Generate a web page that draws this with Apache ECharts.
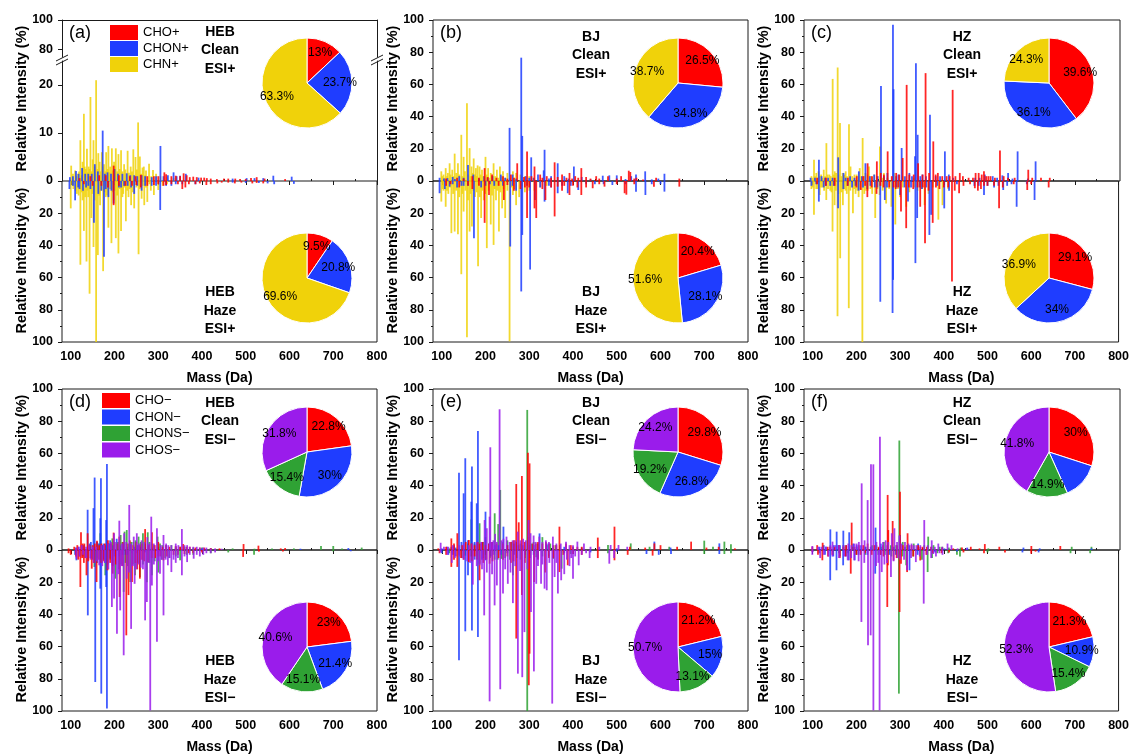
<!DOCTYPE html>
<html>
<head>
<meta charset="utf-8">
<script src="https://cdn.jsdelivr.net/npm/echarts@6/dist/echarts.min.js"></script>
<style>
html,body{margin:0;padding:0;background:#fff}
#chart{width:1132px;height:756px}
</style>
</head>
<body>
<div id="chart"></div>
<script>
// ---- classes and tick labels ----
const posClasses = ['CHO+', 'CHON+', 'CHN+'];
const negClasses = ['CHO\u2212', 'CHON\u2212', 'CHONS\u2212', 'CHOS\u2212'];
const massTicks = [100, 200, 300, 400, 500, 600, 700, 800];
const massMinorTicks = [150, 250, 350, 450, 550, 650, 750];
const intensityTicks = [0, 20, 40, 60, 80, 100];
const brokenLowTicks = [0, 10, 20];
const brokenHighTicks = [80, 100];

// ---- composition shares (%) in class order ----
const pieHebCleanPos = [13, 23.7, 63.3];
const pieHebHazePos = [9.5, 20.8, 69.6];
const pieBjCleanPos = [26.5, 34.8, 38.7];
const pieBjHazePos = [20.4, 28.1, 51.6];
const pieHzCleanPos = [39.6, 36.1, 24.3];
const pieHzHazePos = [29.1, 34, 36.9];
const pieHebCleanNeg = [22.8, 30, 15.4, 31.8];
const pieHebHazeNeg = [23, 21.4, 15.1, 40.6];
const pieBjCleanNeg = [29.8, 26.8, 19.2, 24.2];
const pieBjHazeNeg = [21.2, 15, 13.1, 50.7];
const pieHzCleanNeg = [30, 13.3, 14.9, 41.8];
const pieHzHazeNeg = [21.3, 10.9, 15.4, 52.3];

// ---- spectra: [mass (Da), relative intensity (%)] ----
// HEB, ESI+
const hebCleanPosCHO = [[120,0.6],[198,3.2],[260,1.3],[314,1.8],[318,1.4],[340,1.1],[358,1.6],[365,1.2],[380,0.9],[398,0.7],[411,0.6],[420,0.5],[434,0.4],[476,0.5],[487,0.4],[500,0.4],[512,0.6],[525,0.8],[543,0.5],[590,0.4],[145,1],[165,1.2],[180,1.2],[210,1.2],[235,1],[248,1],[275,1],[290,1],[300,1],[330,1],[350,1],[372,0.8],[388,0.8],[405,0.7],[450,0.5],[460,0.5]];
const hebCleanPosCHON = [[98,0.8],[112,2.1],[126,2.7],[140,1.5],[155,3.5],[173,10.5],[184,1.8],[200,2.5],[228,1.6],[245,1.2],[262,1.2],[285,0.8],[305,7.3],[322,1.2],[335,1.8],[350,1.1],[363,1.5],[392,0.7],[470,0.5],[502,0.6],[520,0.6],[540,0.6],[563,1.1],[605,0.9],[105,1],[118,1.5],[133,1.5],[148,1.5],[162,2],[178,1.5],[192,1.5],[208,1.5],[218,1.5],[236,1.2],[252,1],[270,1],[295,1],[312,1],[342,1]];
const hebCleanPosCHN = [[101,3.2],[110,2.2],[116,1.5],[122,8.5],[127,4],[130,14],[134,2.5],[137,6.7],[141,3],[145,17.5],[150,4.5],[152,8.5],[158,21],[163,5.8],[166,4],[171,6],[176,3.5],[181,6],[186,7.3],[190,3],[194,6.8],[199,4],[203,6.8],[209,5.6],[215,6.4],[222,3.5],[230,6.3],[237,3],[243,6.6],[248,5],[254,12.2],[258,5.1],[264,2.8],[267,3],[272,2.2],[279,3.6],[288,2.3],[295,1.5],[305,1],[320,0.8],[335,0.6],[105,1.5],[113,1],[119,2],[124,1.2],[132,3],[139,1.8],[143,2.5],[148,2],[155,3],[161,2.5],[168,2],[173,3],[179,2],[184,2.5],[188,1.8],[196,2.2],[201,3],[206,2],[212,2.5],[218,2],[225,2.4],[233,1.7],[240,2],[251,2.4],[261,1.5],[270,1.2],[284,1]];
const hebHazePosCHO = [[130,2],[198,15],[225,3],[260,4],[312,3],[318,2.5],[355,5],[362,4],[385,2],[410,2.5],[420,2],[435,1.5],[475,1.5],[490,1],[515,1.5],[525,1.2],[540,1.5],[150,3],[170,3],[185,4],[210,3],[240,3],[250,2.5],[275,3],[290,2.5],[300,2],[330,2],[345,2],[370,2],[395,1.5],[445,1],[460,1]];
const hebHazePosCHON = [[97,5],[110,12],[117,4],[128,6],[140,3],[153,26],[163,8],[176,47],[186,10],[198,14],[210,4],[230,3],[245,8],[262,6],[285,3],[304.5,18],[318,3],[330,3],[355,2],[385,2],[470,1],[500,1.2],[530,1.2],[550,1.5],[565,2],[610,1.8],[105,3],[120,5],[135,4],[145,5],[170,6],[180,5],[193,6],[215,4],[222,3],[238,4],[252,3],[270,3],[295,3],[340,2]];
const hebHazePosCHN = [[100,17],[106,5],[114,8],[122,52],[127,12],[130,31],[136,50],[140,10],[143,70],[147,23],[152,41],[158,100],[162,46],[167,15],[174,56],[180,10],[186,29],[193,38.6],[198,12],[203,35.5],[209,45],[215,31],[220,8],[226,25],[232,10],[238,15],[245,17],[255,45.5],[262,11],[268,15],[275,13],[283,6],[290,8.7],[300,5.6],[310,3],[320,2],[104,3],[111,6],[118,9],[125,7],[133,10],[138,6],[149,8],[155,12],[165,9],[170,6],[178,7],[183,9],[190,5],[196,7],[201,6],[206,9],[212,5],[218,10],[223,4],[229,6],[235,5],[242,7],[250,4],[258,5],[265,3],[272,4],[280,2]];
// BJ, ESI+
const bjCleanPosCHO = [[110,1.5],[135,2],[170,3],[198,8],[215,4],[240,3],[258,4],[272.5,11],[295,18.4],[312,9],[325,4],[340,3],[358,11.6],[375,4],[392,5],[405,3],[419,8],[430,2.5],[453,3],[480,3],[510,3],[527.5,6.4],[531,5.6],[545,2],[590,2],[643,1.5],[150,1.5],[185,2],[205,2.5],[225,2],[250,1.5],[265,2],[288,2.5],[305,3],[330,2],[350,2],[365,2.5],[385,2],[398,1.5],[412,2],[440,1.5],[460,1.5],[500,1.5],[540,1.5],[560,1]];
const bjCleanPosCHON = [[95,2],[113,1.8],[125,2.5],[140,3],[160,10],[172,4],[197,3],[216,3],[235,4],[255,33],[262,4],[281.7,76.6],[284,28],[292,3],[304.5,14.7],[320,4],[333,6.6],[335,19.4],[350,3],[365,11],[380,3],[402,9],[420,2.5],[468,3.3],[483,3.5],[500,3.5],[533,3],[544,4],[565,6],[609,4.5],[105,1.5],[130,1.2],[150,2],[185,1.5],[205,2],[245,2],[270,1.5],[300,2],[310,2],[345,1.5],[390,1.5],[440,1],[520,1.2],[580,1],[595,1.5]];
const bjCleanPosCHN = [[99,6],[104,4],[109,8],[114,5],[118,11],[124,7],[129.5,17],[137,11],[144.7,28.7],[150,15],[157.6,48.3],[163.7,20.4],[168,9],[173,14],[178,8],[182,9.7],[186.5,9],[192,7],[200,15],[206,8],[212,5],[218.5,11],[226,7],[233,9],[240,6],[250,5],[262.6,6],[270,5],[280,4],[290,3],[300,3],[310,2],[101,3],[107,2],[112,3],[120,4],[127,3],[133,5],[140,4],[147,3],[153,6],[160,4],[166,3],[171,5],[176,4],[180,3],[189,4],[195,3],[203,4],[209,2],[215,3],[222,3],[229,2],[236,3],[245,2],[256,2],[265,2]];
const bjHazePosCHO = [[110,3],[140,4],[170,5],[198,26],[208,8.7],[242,11.8],[265,6],[280,5],[295,23],[312,17],[316,23],[337,11.8],[358,22],[375,6],[392,8.7],[419,8.7],[430,4],[445,4.5],[472,3.5],[518,7.6],[522,8.5],[585,3.5],[643,3.5],[120,2],[160,3],[185,3],[230,3],[250,2.5],[290,4],[300,4],[330,5],[350,4],[365,3.5],[380,3],[400,3],[410,4],[460,2],[500,2],[540,2]];
const bjHazePosCHON = [[95,7.6],[107,5],[118,3.5],[135,4],[150,3],[173.6,35.5],[190,4],[220,3],[256.5,40.7],[270,6],[281.7,68.6],[284,33.5],[302,55],[313,11.8],[335,12.8],[350,4],[365,7.6],[388,7.6],[412,5.6],[450,2],[490,2.5],[544,6.6],[565.5,8.7],[609,6.6],[125,2],[145,3],[160,3],[200,3],[210,2],[240,3],[262,3],[295,3],[325,4],[345,3],[375,3],[395,3],[430,2],[470,2],[520,2],[580,2],[600,2]];
const bjHazePosCHN = [[99,12.8],[104,6],[109,16],[115,8],[122,32.4],[129.5,31.4],[137,33],[144.7,57.9],[150,19],[157.6,97],[163.7,31.4],[169,28.3],[176,10],[183,53],[190,23],[196,12],[203,41.7],[212,27],[218.5,39.7],[224,12],[230.7,31.4],[238,17],[245,23],[255,99.6],[262.6,8.7],[270,15],[277,10],[290,7],[300,6],[312,6],[325,4],[340,3],[102,5],[112,6],[119,4],[126,8],[133,6],[140,10],[147,8],[154,6],[160,12],[166,8],[172,6],[180,7],[187,10],[193,6],[200,8],[207,6],[215,9],[221,5],[227,6],[234,7],[241,5],[250,6],[260,4],[267,5],[283,3],[295,3]];
// HZ, ESI+
const hzCleanPosCHO = [[110,2],[130,2],[200,3],[225,11],[246,12.2],[255,5],[262,4],[270.6,18.4],[290,5],[304.8,14.3],[313.9,59.7],[320,4],[340,11],[357,67],[365,5],[374.6,24.6],[385,5],[395,3],[418.7,56.6],[425,3],[435,5],[471,5],[478,5],[485,4],[490,6],[500,3],[526.5,19],[535,3],[591,7],[640,2],[150,2],[180,2],[215,3],[235,3],[280,3],[297,4],[330,4],[350,4],[380,4],[405,3],[412,3],[442,3],[455,2],[465,2],[495,3],[505,3],[515,2],[545,2],[560,2],[600,2],[620,2]];
const hzCleanPosCHON = [[95,2],[114,13.2],[120,3],[135,2],[158,14.7],[170,5],[185,3],[205,6],[220,11],[240,4],[255.4,59],[270,5],[282.7,97],[284,57],[295,4],[302.5,20.5],[320,5],[333,15.3],[335,73.1],[339,28.7],[350,4],[367,41.1],[380,3],[401,18.4],[410,4],[470,2],[492,4],[510,3],[532,3.5],[545,5],[566.7,18.4],[607.7,12.2],[105,2],[128,2],[145,2],[175,2],[195,2],[212,3],[230,3],[248,3],[262,3],[290,3],[310,3],[326,3],[345,3],[358,3],[390,3],[420,2],[480,2],[520,2],[555,1.5],[590,1.5]];
const hzCleanPosCHN = [[97,3],[102.8,13.2],[108,5],[113,6],[119,4],[125,7],[131,23.5],[138,4],[145.3,63.4],[150,6],[156.7,70.5],[162,36],[168,5],[175,6],[182.5,35.3],[186,9],[195,4],[200,4],[207,8],[213.6,26.7],[220,5],[228,9],[240,4],[253,21.5],[262,5],[285,5],[305,3],[330,2],[100,2],[105,3],[111,2],[116,3],[122,2],[128,3],[134,4],[141,3],[148,4],[153,5],[159,4],[165,3],[172,4],[178,3],[190,3],[204,3],[210,3],[217,3],[225,4],[233,3],[246,3],[258,2],[270,2]];
const hzHazePosCHO = [[110,2],[130,3],[200,4],[210,5.6],[225,10],[246,8],[262,4],[290,5],[302,19],[313.9,29.3],[320,4],[346,16],[357,38.6],[365,6],[374.6,26],[390,5],[418.7,62.4],[425,6],[435,7.6],[471,4.5],[478,6],[485,5],[526.5,17],[535,4],[591,5.6],[640,4],[150,3],[180,3],[220,3],[235,4],[255,3],[275,4],[285,4],[296,4],[330,5],[340,4],[352,4],[382,4],[400,4],[410,4],[445,3],[460,2],[492,3],[500,3],[515,3],[560,2],[600,2]];
const hzHazePosCHON = [[97,3],[114,12.8],[125,4],[140,3],[158,17],[170,5],[190,4],[205,6],[225,5],[242,4],[254.6,75],[265,11.8],[282.7,82],[284,61.4],[300,8.7],[318,12.8],[335,51],[339,23],[350,5],[367,33.5],[371,21],[401,17],[412,6],[470,3],[492,8.7],[515,4],[536,5.6],[545,3],[566.7,16],[607.7,11.8],[108,2],[130,3],[148,3],[180,3],[198,3],[215,4],[232,3],[248,4],[270,4],[292,4],[310,4],[325,4],[345,4],[360,4],[385,3],[430,2],[480,3],[500,3],[525,3],[555,2],[590,2]];
const hzHazePosCHN = [[97,5],[102.8,21],[108,5],[116,8.7],[122,4],[131,11.8],[140,6],[145.3,31.4],[150,15],[156.7,84],[162.8,48],[169,15],[175,6],[182.5,79],[192,20],[198,8],[205,10],[213.6,100],[222,6],[236,8],[243,23],[253,8.7],[260,6],[268,14],[280,16],[289,27],[300,10],[314,16],[321,7],[350,5],[356,15],[365,8],[387.5,24],[397,15],[410,5],[100,4],[111,5],[119,4],[126,6],[135,5],[143,7],[153,6],[159,8],[166,7],[172,5],[178,8],[186,6],[195,5],[202,6],[209,5],[218,8],[226,6],[232,5],[248,5],[275,5],[295,5],[306,4],[333,4],[340,6],[375,4]];
// HEB, ESI-
const hebCleanNegCHO = [[95,1],[108,2],[123.4,11],[131,4],[138.6,10.4],[150,3],[160,5.8],[170,4],[185,6],[198,10.8],[211,8.3],[220,5],[235,6],[250,5],[262,4],[270,13],[285.5,11],[300,5],[318,3],[340,2.5],[357,3.7],[372,2],[395,1.5],[420,1.2],[440,1],[495,3.7],[529,2.7],[580,1],[590,1.2],[115,3],[127,4],[143,3],[155,4],[165,3],[178,4],[192,4],[205,4],[228,4],[243,3],[257,3],[278,3],[292,3],[310,2],[325,2],[350,2],[365,2],[385,1.5],[405,1.5]];
const hebCleanNegCHON = [[112,1.5],[125,3],[138.6,25],[146,5],[152,26],[154.6,45],[160,5],[167.5,19.7],[169,44.5],[175,4],[181,18.6],[182.7,53.4],[190,6],[205,7],[220,4],[235,3],[252,3],[270,2],[300,2],[340,1],[400,1],[625,0.8],[734.5,1.2],[118,2],[130,3],[143,4],[163,4],[172,3],[186,4],[197,3],[212,3],[228,2],[245,2],[260,2],[285,1.5]];
const hebCleanNegCHONS = [[166,4],[167.5,10.4],[180,3],[195,7.2],[208,5],[214,9.3],[223,11.4],[228,12.4],[238,5],[248,6],[255,8.3],[265,10.4],[276,11],[285,4],[298.5,8.3],[310,3],[330,3],[350,2],[380,1.5],[420,1],[470,1],[520,0.8],[672,2.5],[700,2.5],[720,1],[765,1.5],[172,3],[187,4],[200,5],[218,5],[233,4],[243,5],[260,5],[270,4],[280,5],[290,3],[304,4],[318,3],[340,2],[360,2],[400,1.5],[560,1],[610,1]];
const hebCleanNegCHOS = [[112,1],[150,2],[170,3],[192,5],[199,10.4],[211,18.2],[222,10.4],[233.7,28],[244,8.3],[251,10.4],[262,6],[275,8],[284,20.7],[297,13.5],[312,9.3],[323,3],[340,4],[354,13],[366,3],[388,2],[403,1.5],[420,1],[445,0.8],[118,2],[125,3],[135,2],[142,3],[158,2],[176,3],[186,4],[204,5],[217,4],[227,5],[238,4],[256,4],[268,5],[279,4],[290,4],[306,3],[318,4],[330,3],[346,3],[360,3],[372,2],[380,2],[395,1.5],[410,1.5],[430,1]];
const hebHazeNegCHO = [[95,2],[112,4],[122,23],[130,8],[136,15.7],[148,11.6],[159,19.9],[170,8],[184,12.6],[196,14.7],[211.7,29.2],[227,53],[232,28],[240,19.9],[258,17.8],[268,7],[277,7.5],[300,4],[312,6.4],[345,3],[370,2],[494,4.3],[530,1],[585,1],[100,3],[117,6],[126,5],[140,7],[153,8],[165,6],[176,7],[190,8],[203,9],[218,10],[247,8],[252,12],[263,6],[285,5],[293,5],[305,4],[320,4],[335,3],[360,2.5],[380,2],[400,1.5]];
const hebHazeNegCHON = [[110,3],[113,6.4],[127,4],[139,40.6],[145,5],[156,82],[160,8],[167.5,24],[169.8,89.2],[178,8],[181,23],[182.7,98.5],[195,9.5],[210,4],[218,3],[230,3],[250,2],[270,1.5],[300,1],[740,0.8],[120,4],[133,5],[150,6],[175,6],[190,5],[200,4],[225,3],[240,2]];
const hebHazeNegCHONS = [[154,10.5],[160,5],[179,15.7],[190,6],[202,17.8],[221,26],[225,8],[236,19.9],[247,15.7],[258,16.8],[274,20],[285.5,15.7],[300,14],[316,5],[350,6.4],[380,3],[420,2],[460,1.5],[519,2.9],[700,0.8],[165,6],[172,8],[185,9],[196,10],[210,12],[215,9],[230,10],[242,9],[253,8],[265,9],[280,8],[292,7],[308,6],[325,5],[340,4],[365,3]];
const hebHazeNegCHOS = [[113,5.4],[128,3],[165,9.5],[194,35.4],[199,30.2],[205.6,52],[213,37.5],[221,65.4],[228,17.8],[238,49],[246,21],[250,12],[265,12],[270,43.7],[274,32.3],[281.7,99.6],[285.5,22],[297,57],[304,14.7],[312,40.6],[322,9.5],[330,13.7],[340,8],[354,15.7],[366,7.5],[381,5.4],[395,4],[403,3],[430,1.5],[120,4],[135,5],[145,6],[152,8],[160,7],[172,10],[178,8],[186,12],[209,15],[217,10],[233,14],[242,10],[255,9],[260,11],[278,8],[290,9],[300,7],[308,6],[317,6],[326,5],[335,6],[345,5],[360,4],[372,3],[388,3],[410,2],[420,2]];
// BJ, ESI-
const bjCleanNegCHO = [[92,1],[110,2],[121.9,7.2],[135.6,10.4],[147,3],[162,6.2],[175,3],[187,4],[200,3],[215,5],[240,4],[250,3],[270.3,41],[276,17.2],[283.2,46],[297,60.4],[300.7,53.8],[308,4],[320,5],[338,5],[355,3],[369,14.5],[384,4],[400,2],[420,2],[456.7,7.7],[494.8,14.5],[530,2],[565,1.5],[586,4.1],[600,3],[638,2],[670,5.2],[705,1.5],[733,2],[770,1],[128,4],[155,5],[168,4],[182,5],[193,5],[208,4],[225,4],[258,5],[265,6],[290,5],[315,4],[330,4],[345,4],[362,3],[395,3],[410,2]];
const bjCleanNegCHON = [[100,1],[122,2],[132,1.5],[139.4,48],[150,35.2],[153.8,57],[167.5,30],[169,51.8],[180,29],[182.7,73.9],[200,23.8],[215,5],[230,3],[241,14.5],[265,4],[285,3],[310,3],[323.5,10.3],[340,4],[380,2],[420,1.5],[500,1],[586,5.2],[623,1.5],[734.5,4.1],[112,2],[128,3],[145,5],[160,6],[175,5],[192,5],[208,4],[222,3],[250,3],[275,3],[300,3]];
const bjCleanNegCHONS = [[118,1],[160,4],[167.5,19],[186.5,16.6],[200,8],[221,22.8],[229,16.1],[233.7,37.3],[250,6],[270,5],[295.4,87],[298,8],[310,5],[330,8],[348,4],[370,3],[400,2],[480,3.1],[532,4.1],[575,2],[620,2],[700,5.8],[720,2],[746,5.2],[761,3.5],[175,4],[195,5],[210,5],[240,5],[260,5],[280,4],[305,4],[320,4],[340,3],[360,3]];
const bjCleanNegCHOS = [[97.5,4.5],[115,2],[162,3],[180,5],[198,18.6],[203,13.5],[209.4,20.7],[211,63.8],[215,5],[222,10],[232.2,87.4],[241,7],[248,8.3],[262,6],[274,11.4],[286,7],[298.4,18.6],[303,10.4],[310,9],[323,8.3],[338,6],[354,8.3],[384,5.2],[410,5.2],[425,4],[486,3.1],[504,3.1],[524,2],[105,2],[125,3],[140,3],[150,4],[170,4],[190,5],[218,6],[226,5],[237,6],[255,5],[268,6],[280,6],[292,6],[315,5],[330,5],[345,5],[362,4],[372,4],[392,3],[400,3],[440,2],[460,2]];
const bjHazeNegCHO = [[95,2],[110,3],[121.9,10.5],[135.6,10.5],[144,5],[162,7.5],[175,4],[186.5,18.8],[209.4,8.5],[230,5],[250,4],[270.3,55],[283.2,28],[299,84],[300.7,64.4],[311,19.9],[336,14],[369,13.7],[388,9.5],[420,3],[456.7,5],[494.8,6.4],[525,3],[582,3.5],[128,6],[150,6],[170,7],[180,6],[195,8],[202,6],[216,7],[240,6],[258,8],[264,7],[290,8],[320,6],[345,5],[355,5],[378,3],[400,2.5]];
const bjHazeNegCHON = [[100,2],[125,3],[139.4,68.5],[146,5],[153.8,50.5],[160,15.7],[169,50],[175,6],[182.7,54],[186.5,8.5],[200,6.4],[220,3],[250,2],[310,3],[320,5.4],[380,2],[440,1.5],[500,1],[568,2.5],[596,3],[624,2.5],[734.5,2.5],[115,3],[132,4],[192,6],[212,4],[235,3],[265,3],[290,3]];
const bjHazeNegCHONS = [[117,2],[153.8,3.5],[167,4],[200,3],[221,6],[236,5.5],[262.6,15.7],[272,5],[295.4,100],[302,5],[316,4.5],[355,5.5],[374,11.6],[395,2.5],[480,2],[700,2.5],[746,2.5],[761,2],[140,3],[180,4],[195,5],[210,5],[228,6],[245,5],[256,6],[280,6],[290,5],[330,4],[345,4]];
const bjHazeNegCHOS = [[97,1.5],[113,3],[123,8],[171,21.5],[186.5,9.5],[197,40.6],[209.4,94],[220.8,34.4],[226,22],[233.7,86.5],[240,27],[251,21],[262.6,33],[274,76.8],[284,79],[289,51],[304,38.5],[310.6,75.4],[316,21],[327,21],[335,24],[340,25],[352.5,95.4],[358,16.8],[365.5,27],[373,18.8],[380,15],[392,10],[400,17.8],[413,9.5],[438,5],[483,8.5],[494,5],[130,5],[140,4],[150,6],[158,7],[165,8],[180,10],[192,12],[203,14],[215,15],[245,12],[257,14],[268,10],[279,13],[296,12],[320,10],[330,9],[346,8],[362,8],[386,6],[396,5],[405,4],[420,3],[430,2]];
// HZ, ESI-
const hzCleanNegCHO = [[99,2],[110,3],[122.5,4.5],[134,2],[150,2],[160,3],[176,3],[188.6,17],[205,3],[225,4],[250,2],[270.6,34.2],[272,12.4],[282,18],[298.7,36.2],[316,10.4],[340,3],[345,2],[360,2],[395,1.5],[420,1],[460,2],[492,3.7],[525,2],[598,2.5],[664,2.5],[140,2],[170,2],[195,2],[215,3],[240,3],[260,3],[292,3],[305,3],[325,3],[350,2],[370,2],[440,1.5],[480,1]];
const hzCleanNegCHON = [[115,2],[125,3],[140,12.8],[154.4,11.4],[158,3],[169.6,12],[183,11],[192,4],[210,3],[243,13.9],[255,4],[270,3],[299,9.3],[320,3],[340,4],[370,2],[400,1],[452,1.5],[580,1.5],[617,1],[735,1],[130,2],[148,3],[162,3],[176,3],[200,3],[220,2],[232,2],[285,2],[310,2]];
const hzCleanNegCHONS = [[140,2],[170,3],[200,2],[245,3],[262,5],[278,3],[297.2,68],[305,5],[330,4],[354,3],[363,8.3],[375,3],[389,2],[437,1.5],[500,1],[690,2],[735,2],[190,2],[220,2],[235,3],[255,2],[290,3],[315,3],[340,2],[395,2],[410,1.5]];
const hzCleanNegCHOS = [[99,2.5],[112,2],[145,5.2],[160,3],[181,4],[195,4],[211.4,41.4],[225,31],[232.6,53.2],[238,53.2],[253,70.4],[260,5],[280,10.4],[286,13.5],[297.2,9],[310,5],[325,4],[336,3],[354,18.6],[371,6],[386,4],[407,4],[416,3],[450,1],[120,2],[130,2],[140,3],[152,3],[170,3],[188,3],[200,4],[205,5],[218,6],[245,5],[266,6],[272,5],[292,5],[302,4],[318,4],[330,3],[345,3],[362,3],[378,2],[395,2],[430,1]];
const hzHazeNegCHO = [[99,1],[122,6.4],[135,4],[162,5],[187,14.7],[200,3],[220,2],[270.6,35.4],[272,9.5],[285,6.5],[298.7,38.5],[302,8.5],[316,13.7],[346,6.5],[395,2],[412,1.5],[492,2],[540,1.5],[600,2.3],[610,1],[112,3],[145,3],[175,4],[210,3],[235,3],[256,3],[262,4],[292,5],[330,4],[360,3],[375,2],[445,1.5]];
const hzHazeNegCHON = [[100,1],[115,2],[140,18.8],[154.4,12.6],[169.6,9.5],[182.5,6.4],[196,6.4],[243,14.7],[255,3],[300,3],[321.5,12.6],[340,3],[380,1.5],[430,1],[580,1.5],[617,1.5],[128,3],[147,4],[162,4],[176,4],[205,3],[225,3],[275,3],[290,3]];
const hzHazeNegCHONS = [[160,2],[200,3],[250,3],[297.2,89.2],[314,9.5],[350,6],[363,13.7],[373,5],[430,3],[437,4],[500,1.5],[690,2],[735,2],[180,2],[220,3],[265,3],[280,4],[305,4],[330,4],[385,2],[410,2]];
const hzHazeNegCHOS = [[99,3],[117,5],[136,4],[180,6.4],[195,6.4],[211.4,44.7],[226.5,59.2],[232.6,53],[238.8,99.6],[253,99.6],[258,13.7],[264,9],[279,16.8],[294,5],[309,6],[316,12.6],[336,7.5],[354,33.3],[371,5],[382,4],[397,3],[125,3],[145,4],[160,5],[172,4],[188,5],[205,7],[218,8],[245,10],[250,8],[270,8],[285,7],[300,6],[325,5],[345,4],[362,3],[376,2.5],[390,2]];

// ---- styling and layout ----
const FONT = '"Liberation Sans", Arial, sans-serif';
const FRAME = '#1a1a1a';
const posColors = ['#ff0000', '#1f3dff', '#f0d20a'];
const negColors = ['#ff0000', '#1f3dff', '#2fa234', '#9a1ceb'];
const posOrder = [2, 1, 0];
const negOrder = [2, 1, 0, 3];
const colLeft = [62, 433, 804];
const colWidth = [315, 315, 316];
const rowTop = [20, 389];
const HALF = 161;
const PIE_R = 45;

const panels = [
  {tag:'(a)', site:'HEB', ion:'ESI+', col:0, row:0, textDy:12, broken:true, classes:posClasses, colors:posColors, order:posOrder,
   clean:[hebCleanPosCHO, hebCleanPosCHON, hebCleanPosCHN], haze:[hebHazePosCHO, hebHazePosCHON, hebHazePosCHN], pieClean:pieHebCleanPos, pieHaze:pieHebHazePos},
  {tag:'(b)', site:'BJ', ion:'ESI+', col:1, row:0, textDy:17, classes:posClasses, colors:posColors, order:posOrder,
   clean:[bjCleanPosCHO, bjCleanPosCHON, bjCleanPosCHN], haze:[bjHazePosCHO, bjHazePosCHON, bjHazePosCHN], pieClean:pieBjCleanPos, pieHaze:pieBjHazePos},
  {tag:'(c)', site:'HZ', ion:'ESI+', col:2, row:0, textDy:17, classes:posClasses, colors:posColors, order:posOrder,
   clean:[hzCleanPosCHO, hzCleanPosCHON, hzCleanPosCHN], haze:[hzHazePosCHO, hzHazePosCHON, hzHazePosCHN], pieClean:pieHzCleanPos, pieHaze:pieHzHazePos},
  {tag:'(d)', site:'HEB', ion:'ESI\u2212', col:0, row:1, textDy:14, classes:negClasses, colors:negColors, order:negOrder,
   clean:[hebCleanNegCHO, hebCleanNegCHON, hebCleanNegCHONS, hebCleanNegCHOS], haze:[hebHazeNegCHO, hebHazeNegCHON, hebHazeNegCHONS, hebHazeNegCHOS], pieClean:pieHebCleanNeg, pieHaze:pieHebHazeNeg},
  {tag:'(e)', site:'BJ', ion:'ESI\u2212', col:1, row:1, textDy:14, classes:negClasses, colors:negColors, order:negOrder,
   clean:[bjCleanNegCHO, bjCleanNegCHON, bjCleanNegCHONS, bjCleanNegCHOS], haze:[bjHazeNegCHO, bjHazeNegCHON, bjHazeNegCHONS, bjHazeNegCHOS], pieClean:pieBjCleanNeg, pieHaze:pieBjHazeNeg},
  {tag:'(f)', site:'HZ', ion:'ESI\u2212', col:2, row:1, textDy:14, classes:negClasses, colors:negColors, order:negOrder,
   clean:[hzCleanNegCHO, hzCleanNegCHON, hzCleanNegCHONS, hzCleanNegCHOS], haze:[hzHazeNegCHO, hzHazeNegCHON, hzHazeNegCHONS, hzHazeNegCHOS], pieClean:pieHzCleanNeg, pieHaze:pieHzHazeNeg}
];

const tickLabel = {fontSize:12.5, fontWeight:'bold', color:'#000', fontFamily:FONT};
const tickLine = {color:FRAME, width:1};

const option = {
  animation: false,
  backgroundColor: '#fff',
  textStyle: {fontFamily: FONT},
  grid: [], xAxis: [], yAxis: [], series: [], graphic: [],
  legend: [
    {data: posClasses, left:110, top:25, orient:'vertical', itemWidth:28, itemHeight:15, itemGap:1, padding:0, icon:'rect',
     selectedMode:false, itemStyle:{opacity:1, borderWidth:0}, textStyle:{fontSize:13, color:'#000', fontFamily:FONT}},
    {data: negClasses, left:102, top:393, orient:'vertical', itemWidth:28, itemHeight:15, itemGap:1.5, padding:0, icon:'rect',
     selectedMode:false, itemStyle:{opacity:1, borderWidth:0}, textStyle:{fontSize:13, color:'#000', fontFamily:FONT}}
  ]
};

function pushTo(list, obj) { return list.push(obj) - 1; }

function addBars(p, sets, xi, yi) {
  p.order.forEach(k => {
    option.series.push({
      type:'bar', name:p.classes[k], xAxisIndex:xi, yAxisIndex:yi, data:sets[k],
      barWidth:1.8, barGap:'-100%', silent:true, z:2,
      itemStyle:{color:p.colors[k], opacity:0.85}
    });
  });
}

function addPie(p, cx, cy, values) {
  option.series.push({
    type:'pie', center:[cx, cy], radius:PIE_R, startAngle:90, clockwise:true, silent:true, z:5,
    label:{show:false}, labelLine:{show:false},
    itemStyle:{borderColor:'#fff', borderWidth:1},
    data:p.classes.map((n, i) => ({name:n, value:values[i], itemStyle:{color:p.colors[i]}}))
  });
  // a transparent, wider ring that only carries the percentage labels
  option.series.push({
    type:'pie', center:[cx, cy], radius:PIE_R * 1.33, startAngle:90, clockwise:true, silent:true, z:6,
    labelLine:{show:false},
    label:{show:true, position:'inside', formatter:'{c}%', fontSize:12, color:'#000', fontFamily:FONT},
    itemStyle:{color:'rgba(0,0,0,0)', borderWidth:0},
    data:p.classes.map((n, i) => ({name:n, value:values[i]}))
  });
}

function addText(x, y, text, style, rotation) {
  option.graphic.push({type:'text', x, y, rotation:rotation || 0, silent:true, z:10,
    style:Object.assign({text, fill:'#000', align:'center', verticalAlign:'middle', fontFamily:FONT}, style)});
}

function breakMark(x, y) {
  option.graphic.push({type:'group', silent:true, z:10, children:[
    {type:'polygon', shape:{points:[[x-6, y+1], [x+6, y-5], [x+6, y-1], [x-6, y+5]]}, style:{fill:'#fff'}},
    {type:'line', shape:{x1:x-6, y1:y+1, x2:x+6, y2:y-5}, style:{stroke:FRAME, lineWidth:1}},
    {type:'line', shape:{x1:x-6, y1:y+5, x2:x+6, y2:y-1}, style:{stroke:FRAME, lineWidth:1}}
  ]});
}

panels.forEach(p => {
  const L = colLeft[p.col], W = colWidth[p.col], T = rowTop[p.row], Z = T + HALF;

  // lower half: haze, intensity grows downward from the shared zero line
  const gH = pushTo(option.grid, {left:L, top:Z, width:W, height:HALF, show:true, borderColor:FRAME, borderWidth:1});
  const xH = pushTo(option.xAxis, {
    gridIndex:gH, type:'value', min:80, max:800, axisLine:{show:false}, splitLine:{show:false},
    axisTick:{show:true, customValues:massTicks, length:4, lineStyle:tickLine},
    axisLabel:Object.assign({customValues:massTicks, margin:8}, tickLabel),
    name:'Mass (Da)', nameLocation:'middle', nameGap:29,
    nameTextStyle:{fontSize:14, fontWeight:'bold', color:'#000', fontFamily:FONT}
  });
  pushTo(option.xAxis, {
    gridIndex:gH, type:'value', min:80, max:800, axisLine:{show:false}, splitLine:{show:false}, axisLabel:{show:false},
    axisTick:{show:true, customValues:massMinorTicks, length:2, lineStyle:tickLine}
  });
  const yH = pushTo(option.yAxis, {
    gridIndex:gH, type:'value', inverse:true, min:0, max:100, interval:20, axisLine:{show:false}, splitLine:{show:false},
    axisTick:{show:true, length:4, lineStyle:tickLine},
    minorTick:{show:true, splitNumber:2, length:2, lineStyle:tickLine},
    axisLabel:Object.assign({margin:9, customValues:intensityTicks.slice(1)}, tickLabel)
  });
  addBars(p, p.haze, xH, yH);

  // upper half: clean
  let xC, yC;
  if (p.broken) {
    const upperH = 37, lowerTop = T + 41;
    const gU = pushTo(option.grid, {left:L, top:T, width:W, height:upperH, show:false});
    pushTo(option.xAxis, {gridIndex:gU, type:'value', min:80, max:800, position:'top',
      axisLine:{show:true, onZero:false, lineStyle:tickLine}, axisTick:{show:false}, axisLabel:{show:false}, splitLine:{show:false}});
    pushTo(option.yAxis, {gridIndex:gU, type:'value', min:75, max:100, splitLine:{show:false},
      axisLine:{show:true, onZero:false, lineStyle:tickLine},
      axisTick:{show:true, customValues:brokenHighTicks, length:4, lineStyle:tickLine},
      axisLabel:Object.assign({margin:9, customValues:brokenHighTicks}, tickLabel)});
    pushTo(option.yAxis, {gridIndex:gU, type:'value', min:75, max:100, position:'right', splitLine:{show:false},
      axisLine:{show:true, onZero:false, lineStyle:tickLine}, axisTick:{show:false}, axisLabel:{show:false}});
    const gLo = pushTo(option.grid, {left:L, top:lowerTop, width:W, height:Z - lowerTop, show:false});
    xC = pushTo(option.xAxis, {gridIndex:gLo, type:'value', min:80, max:800, show:false});
    yC = pushTo(option.yAxis, {gridIndex:gLo, type:'value', min:0, max:25, splitLine:{show:false},
      axisLine:{show:true, onZero:false, lineStyle:tickLine},
      axisTick:{show:true, customValues:brokenLowTicks, length:4, lineStyle:tickLine},
      axisLabel:Object.assign({margin:9, customValues:brokenLowTicks}, tickLabel)});
    pushTo(option.yAxis, {gridIndex:gLo, type:'value', min:0, max:25, position:'right', splitLine:{show:false},
      axisLine:{show:true, onZero:false, lineStyle:tickLine}, axisTick:{show:false}, axisLabel:{show:false}});
    breakMark(L, T + 40);
    breakMark(L + W, T + 40);
  } else {
    const gC = pushTo(option.grid, {left:L, top:T, width:W, height:HALF, show:true, borderColor:FRAME, borderWidth:1});
    xC = pushTo(option.xAxis, {gridIndex:gC, type:'value', min:80, max:800, show:false});
    yC = pushTo(option.yAxis, {
      gridIndex:gC, type:'value', min:0, max:100, interval:20, axisLine:{show:false}, splitLine:{show:false},
      axisTick:{show:true, length:4, lineStyle:tickLine},
      minorTick:{show:true, splitNumber:2, length:2, lineStyle:tickLine},
      axisLabel:Object.assign({margin:9, customValues:intensityTicks}, tickLabel)
    });
  }
  addBars(p, p.clean, xC, yC);

  // composition pies
  addPie(p, L + 245, T + 63, p.pieClean);
  addPie(p, L + 245, Z + 97, p.pieHaze);

  // axis titles, panel tag and sample captions
  const yTitle = {fontSize:14.5, fontWeight:'bold'};
  addText(L - 40, T + HALF / 2 - 2, 'Relative Intensity (%)', yTitle, Math.PI / 2);
  addText(L - 40, Z + HALF / 2 - 1, 'Relative Intensity (%)', yTitle, Math.PI / 2);
  addText(L + 7, T + 13, p.tag, {fontSize:18, align:'left'});
  const cap = {fontSize:14, fontWeight:'bold'};
  [p.site, 'Clean', p.ion].forEach((t, i) => addText(L + 158, T + p.textDy + i * 18.5, t, cap));
  [p.site, 'Haze', p.ion].forEach((t, i) => addText(L + 158, Z + 111.5 + i * 18.5, t, cap));
});

const chart = echarts.init(document.getElementById('chart'), null, {renderer:'canvas'});
chart.setOption(option);
</script>
</body>
</html>
